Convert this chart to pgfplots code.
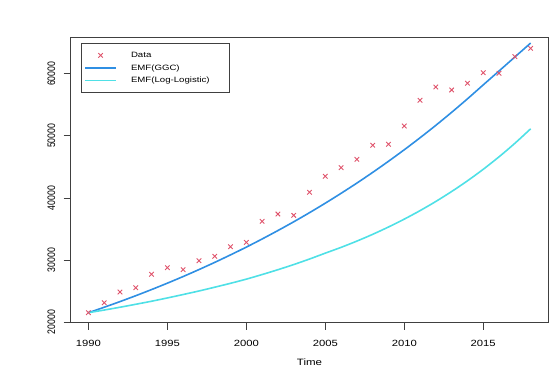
\documentclass[border=0pt]{standalone}
\usepackage{fontspec}
\setmainfont{Liberation Sans}[FakeStretch=1.25]
\newfontfamily\yfont{Liberation Sans}[FakeStretch=0.8]
\usepackage{pgfplots}
\pgfplotsset{compat=1.18}
\definecolor{dred}{HTML}{DF536B}
\definecolor{ggcblue}{HTML}{2F8FE3}
\definecolor{llcyan}{HTML}{4FE0E6}
\pgfplotsset{
  legmark/.style={legend image code/.code={\draw[##1] plot coordinates {(15.5bp,0bp)}; \path[draw=none,fill=none] (0bp,0bp) rectangle (46bp,0bp);}},
}
\begin{document}
\begin{tikzpicture}
\useasboundingbox (-70.7bp,-47.3bp) rectangle (489.3bp,322.7bp);
\begin{axis}[
  at={(0,0)}, anchor=south west,
  scale only axis, width=477.6bp, height=285.4bp,
  xmin=1988.88, xmax=2019.12, ymin=19890, ymax=65880,
  axis line style={draw=black!75, line width=0.8bp},
  xtick={1990,1995,2000,2005,2010,2015},
  ytick={20000,30000,40000,50000,60000},
  xtick pos=bottom, ytick pos=left, tick align=outside,
  major tick length=7.2bp,
  tick style={draw=black!75, line width=0.8bp},
  scaled ticks=false,
  /pgf/number format/1000 sep={},
  /pgf/number format/assume math mode=true,
  xticklabel style={font=\fontsize{9bp}{10bp}\selectfont, anchor=north, inner sep=0pt, yshift=-10bp},
  yticklabel style={font=\yfont\fontsize{10.9bp}{12bp}\selectfont, rotate=90, anchor=south, inner sep=0pt, yshift=8bp},
  xlabel={Time},
  xlabel style={at={(axis description cs:0.5,0)}, anchor=center, yshift=-40bp, inner sep=0pt, font=\fontsize{9.2bp}{10bp}\selectfont},
  legend style={at={(0,1)}, anchor=north west, xshift=10.3bp, yshift=-5.7bp,
    draw=black!75, line width=0.8bp, fill=white,
    inner xsep=3bp, inner ysep=7bp, row sep=2.5bp,
    font=\fontsize{7.7bp}{9bp}\selectfont,
    nodes={inner sep=0pt, text height=7.5bp, text depth=2.5bp},
    cells={anchor=west}},
]
\addplot[only marks, mark=x, mark size=3.2bp, mark options={line width=0.9bp}, color=dred, legmark]
coordinates {
(1990,21500) (1991,23110) (1992,24835) (1993,25530) (1994,27690)
(1995,28750) (1996,28430) (1997,29880) (1998,30590) (1999,32140)
(2000,32840) (2001,36230) (2002,37400) (2003,37190) (2004,40900)
(2005,43480) (2006,44870) (2007,46220) (2008,48480) (2009,48640)
(2010,51590) (2011,55730) (2012,57870) (2013,57390) (2014,58470)
(2015,60180) (2016,60080) (2017,62760) (2018,64110)
};
\addlegendentry{\makebox[95bp][l]{Data}}
\addplot[color=ggcblue, line width=1.6bp, no markers, smooth,
  legend image code/.code={\draw[ggcblue, line width=1.3bp] (0bp,0bp) -- (31bp,0bp); \path[draw=none,fill=none] (0bp,0bp) rectangle (46bp,0bp);}]
coordinates {
(1990,21500) (1991,22380) (1992,23290) (1993,24240) (1994,25230)
(1995,26260) (1996,27330) (1997,28450) (1998,29610) (1999,30820)
(2000,32070) (2001,33380) (2002,34740) (2003,36150) (2004,37620)
(2005,39150) (2006,40740) (2007,42390) (2008,44110) (2009,45900)
(2010,47760) (2011,49690) (2012,51700) (2013,53790) (2014,55960)
(2015,58210) (2016,60450) (2017,62700) (2018,64950)
};
\addlegendentry{\makebox[95bp][l]{EMF(GGC)}}
\addplot[color=llcyan, line width=1.6bp, no markers, smooth,
  legend image code/.code={\draw[llcyan, line width=1.3bp] (0bp,0bp) -- (31bp,0bp); \path[draw=none,fill=none] (0bp,0bp) rectangle (46bp,0bp);}]
coordinates {
(1990,21500) (1991,21930) (1992,22380) (1993,22860) (1994,23350)
(1995,23880) (1996,24430) (1997,25000) (1998,25610) (1999,26240)
(2000,26910) (2001,27650) (2002,28430) (2003,29260) (2004,30150)
(2005,31100) (2006,32030) (2007,33040) (2008,34130) (2009,35310)
(2010,36580) (2011,37950) (2012,39430) (2013,41030) (2014,42750)
(2015,44610) (2016,46620) (2017,48790) (2018,51130)
};
\addlegendentry{\makebox[95bp][l]{EMF(Log-Logistic)}}
\end{axis}
\end{tikzpicture}
\end{document}
